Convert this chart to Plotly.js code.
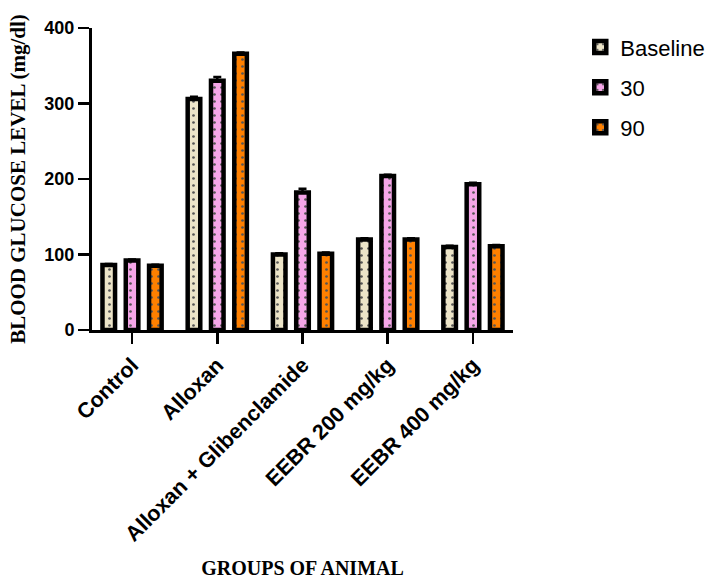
<!DOCTYPE html>
<html><head><meta charset="utf-8">
<script src="https://cdn.plot.ly/plotly-3.0.1.min.js"></script>
<style>html,body{margin:0;padding:0;background:#fff}#chart{width:712px;height:583px}</style>
</head><body><div id="chart"></div>
<script>
const groups = ["Control", "Alloxan", "Alloxan + Glibenclamide", "EEBR 200 mg/kg", "EEBR 400 mg/kg"];
const seriesNames = ["Baseline", "30", "90"];
const baseline = [86, 306, 100, 120, 110];
const t30 = [92, 330, 182, 204, 193];
const t90 = [85, 366, 101, 120, 111];
const errBaseline = [1.5, 3, 1.5, 1.5, 1.5];
const err30 = [1.5, 5, 5, 1.5, 2];
const err90 = [1.5, 1.5, 1.5, 1.5, 1.5];
const yTicks = [0, 100, 200, 300, 400];
const colors = ["#ece4c8", "#f5a6e8", "#ff8000"];

const values = [baseline, t30, t90];
const errs = [errBaseline, err30, err90];
const traces = values.map((v, i) => ({
  type: "bar",
  name: seriesNames[i],
  legendgroup: "g" + i,
  x: groups,
  y: v,
  marker: {
    color: colors[i],
    line: {color: "#000", width: 4.5},
    pattern: {shape: ".", fgcolor: "#555", bgcolor: colors[i], size: 7, solidity: 0.12, fillmode: "replace"}
  },
  error_y: {type: "data", array: errs[i], arrayminus: errs[i].map(() => 0), color: "#000", thickness: 2.5, width: 4}
}));

const layout = {
  width: 712, height: 583,
  margin: {l: 92, r: 199, t: 28, b: 253},
  paper_bgcolor: "#fff", plot_bgcolor: "#fff",
  barmode: "group", bargap: 0.18, bargroupgap: 0.46,
  showlegend: true,
  legend: {xref: "container", yref: "container", x: 0.815, xanchor: "left", y: 0.955, yanchor: "top", tracegroupgap: 8.5,
    font: {family: "Arial, Liberation Sans, sans-serif", size: 22, color: "#000"}},
  xaxis: {
    automargin: false,
    range: [-0.47, 4.47], showgrid: false, zeroline: false,
    showline: true, linecolor: "#000", linewidth: 3,
    ticks: "outside", ticklen: 11, tickwidth: 2.5, tickcolor: "#000",
    tickangle: -45,
    tickfont: {family: "Arial, Liberation Sans, sans-serif", size: 21.5, color: "#000", weight: "bold"},
    title: {text: "<b>GROUPS OF ANIMAL</b>", standoff: 16,
      font: {family: "Liberation Serif, Times New Roman, serif", size: 20, color: "#000"}}
  },
  yaxis: {
    automargin: false,
    range: [0, 400], showgrid: false, zeroline: false,
    showline: true, linecolor: "#000", linewidth: 3,
    tickvals: yTicks, ticktext: yTicks.map(String),
    ticks: "outside", ticklen: 11, tickwidth: 2.5, tickcolor: "#000",
    tickfont: {family: "Arial, Liberation Sans, sans-serif", size: 18, color: "#000", weight: "bold"},
    title: {text: "<b>BLOOD GLUCOSE LEVEL (mg/dl)</b>", standoff: 14,
      font: {family: "Liberation Serif, Times New Roman, serif", size: 21, color: "#000"}}
  }
};
Plotly.newPlot("chart", traces, layout, {displayModeBar: false, staticPlot: true});
</script></body></html>
